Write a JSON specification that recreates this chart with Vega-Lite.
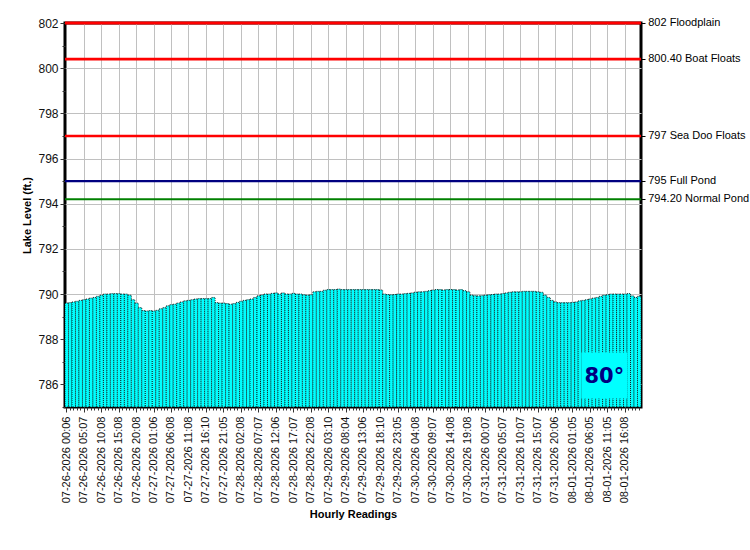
{
  "$schema": "https://vega.github.io/schema/vega-lite/v6.json",
  "width": 576,
  "height": 384,
  "autosize": {"type": "none"},
  "padding": {"left": 65, "top": 23, "right": 109, "bottom": 143},
  "background": "white",
  "config": {
    "font": "Liberation Sans",
    "view": {"stroke": "black", "strokeWidth": 3},
    "axis": {"labelFont": "Liberation Sans", "titleFont": "Liberation Sans", "labelColor": "#111", "titleColor": "black", "tickColor": "#333", "domain": false}
  },
  "datasets": {
    "levels": [
      {"t": "07-26-2026 00:06", "lvl": 789.6}, {"t": "07-26-2026 01:07", "lvl": 789.62}, {"t": "07-26-2026 02:07", "lvl": 789.65},
      {"t": "07-26-2026 03:07", "lvl": 789.68}, {"t": "07-26-2026 04:07", "lvl": 789.72}, {"t": "07-26-2026 05:07", "lvl": 789.75},
      {"t": "07-26-2026 06:07", "lvl": 789.78}, {"t": "07-26-2026 07:07", "lvl": 789.82}, {"t": "07-26-2026 08:07", "lvl": 789.85},
      {"t": "07-26-2026 09:07", "lvl": 789.9}, {"t": "07-26-2026 10:08", "lvl": 789.95}, {"t": "07-26-2026 11:07", "lvl": 790.0},
      {"t": "07-26-2026 12:07", "lvl": 790.0}, {"t": "07-26-2026 13:07", "lvl": 790.02}, {"t": "07-26-2026 14:07", "lvl": 790.02},
      {"t": "07-26-2026 15:08", "lvl": 790.02}, {"t": "07-26-2026 16:07", "lvl": 790.0}, {"t": "07-26-2026 17:07", "lvl": 790.0},
      {"t": "07-26-2026 18:07", "lvl": 789.95}, {"t": "07-26-2026 19:07", "lvl": 789.75}, {"t": "07-26-2026 20:08", "lvl": 789.6},
      {"t": "07-26-2026 21:07", "lvl": 789.4}, {"t": "07-26-2026 22:07", "lvl": 789.27}, {"t": "07-26-2026 23:07", "lvl": 789.25},
      {"t": "07-27-2026 00:07", "lvl": 789.27}, {"t": "07-27-2026 01:06", "lvl": 789.25}, {"t": "07-27-2026 02:07", "lvl": 789.28},
      {"t": "07-27-2026 03:07", "lvl": 789.35}, {"t": "07-27-2026 04:07", "lvl": 789.4}, {"t": "07-27-2026 05:07", "lvl": 789.48},
      {"t": "07-27-2026 06:08", "lvl": 789.53}, {"t": "07-27-2026 07:07", "lvl": 789.55}, {"t": "07-27-2026 08:07", "lvl": 789.6},
      {"t": "07-27-2026 09:07", "lvl": 789.65}, {"t": "07-27-2026 10:07", "lvl": 789.7}, {"t": "07-27-2026 11:08", "lvl": 789.72},
      {"t": "07-27-2026 12:07", "lvl": 789.75}, {"t": "07-27-2026 13:07", "lvl": 789.78}, {"t": "07-27-2026 14:07", "lvl": 789.8},
      {"t": "07-27-2026 15:07", "lvl": 789.8}, {"t": "07-27-2026 16:10", "lvl": 789.8}, {"t": "07-27-2026 17:07", "lvl": 789.8},
      {"t": "07-27-2026 18:07", "lvl": 789.85}, {"t": "07-27-2026 19:07", "lvl": 789.62}, {"t": "07-27-2026 20:07", "lvl": 789.6},
      {"t": "07-27-2026 21:05", "lvl": 789.6}, {"t": "07-27-2026 22:07", "lvl": 789.58}, {"t": "07-27-2026 23:07", "lvl": 789.55},
      {"t": "07-28-2026 00:07", "lvl": 789.58}, {"t": "07-28-2026 01:07", "lvl": 789.63}, {"t": "07-28-2026 02:08", "lvl": 789.68},
      {"t": "07-28-2026 03:07", "lvl": 789.72}, {"t": "07-28-2026 04:07", "lvl": 789.75}, {"t": "07-28-2026 05:07", "lvl": 789.78},
      {"t": "07-28-2026 06:07", "lvl": 789.85}, {"t": "07-28-2026 07:07", "lvl": 789.92}, {"t": "07-28-2026 08:07", "lvl": 789.96},
      {"t": "07-28-2026 09:07", "lvl": 790.0}, {"t": "07-28-2026 10:07", "lvl": 790.0}, {"t": "07-28-2026 11:07", "lvl": 790.03},
      {"t": "07-28-2026 12:06", "lvl": 790.05}, {"t": "07-28-2026 13:07", "lvl": 790.0}, {"t": "07-28-2026 14:07", "lvl": 790.05},
      {"t": "07-28-2026 15:07", "lvl": 790.0}, {"t": "07-28-2026 16:07", "lvl": 790.0}, {"t": "07-28-2026 17:07", "lvl": 790.03},
      {"t": "07-28-2026 18:07", "lvl": 790.0}, {"t": "07-28-2026 19:07", "lvl": 790.0}, {"t": "07-28-2026 20:07", "lvl": 789.97},
      {"t": "07-28-2026 21:07", "lvl": 789.95}, {"t": "07-28-2026 22:08", "lvl": 789.97}, {"t": "07-28-2026 23:07", "lvl": 790.1},
      {"t": "07-29-2026 00:07", "lvl": 790.12}, {"t": "07-29-2026 01:07", "lvl": 790.12}, {"t": "07-29-2026 02:07", "lvl": 790.17},
      {"t": "07-29-2026 03:10", "lvl": 790.2}, {"t": "07-29-2026 04:07", "lvl": 790.2}, {"t": "07-29-2026 05:07", "lvl": 790.2},
      {"t": "07-29-2026 06:07", "lvl": 790.22}, {"t": "07-29-2026 07:07", "lvl": 790.2}, {"t": "07-29-2026 08:04", "lvl": 790.2},
      {"t": "07-29-2026 09:07", "lvl": 790.2}, {"t": "07-29-2026 10:07", "lvl": 790.2}, {"t": "07-29-2026 11:07", "lvl": 790.2},
      {"t": "07-29-2026 12:07", "lvl": 790.2}, {"t": "07-29-2026 13:06", "lvl": 790.2}, {"t": "07-29-2026 14:07", "lvl": 790.2},
      {"t": "07-29-2026 15:07", "lvl": 790.2}, {"t": "07-29-2026 16:07", "lvl": 790.2}, {"t": "07-29-2026 17:07", "lvl": 790.2},
      {"t": "07-29-2026 18:10", "lvl": 790.18}, {"t": "07-29-2026 19:07", "lvl": 790.0}, {"t": "07-29-2026 20:07", "lvl": 789.98},
      {"t": "07-29-2026 21:07", "lvl": 789.97}, {"t": "07-29-2026 22:07", "lvl": 789.98}, {"t": "07-29-2026 23:05", "lvl": 790.0},
      {"t": "07-30-2026 00:07", "lvl": 790.0}, {"t": "07-30-2026 01:07", "lvl": 790.02}, {"t": "07-30-2026 02:07", "lvl": 790.03},
      {"t": "07-30-2026 03:07", "lvl": 790.05}, {"t": "07-30-2026 04:08", "lvl": 790.08}, {"t": "07-30-2026 05:07", "lvl": 790.1},
      {"t": "07-30-2026 06:07", "lvl": 790.1}, {"t": "07-30-2026 07:07", "lvl": 790.12}, {"t": "07-30-2026 08:07", "lvl": 790.15},
      {"t": "07-30-2026 09:07", "lvl": 790.18}, {"t": "07-30-2026 10:07", "lvl": 790.2}, {"t": "07-30-2026 11:07", "lvl": 790.2},
      {"t": "07-30-2026 12:07", "lvl": 790.18}, {"t": "07-30-2026 13:07", "lvl": 790.2}, {"t": "07-30-2026 14:08", "lvl": 790.2},
      {"t": "07-30-2026 15:07", "lvl": 790.2}, {"t": "07-30-2026 16:07", "lvl": 790.18}, {"t": "07-30-2026 17:07", "lvl": 790.2},
      {"t": "07-30-2026 18:07", "lvl": 790.15}, {"t": "07-30-2026 19:08", "lvl": 790.1}, {"t": "07-30-2026 20:07", "lvl": 789.95},
      {"t": "07-30-2026 21:07", "lvl": 789.93}, {"t": "07-30-2026 22:07", "lvl": 789.92}, {"t": "07-30-2026 23:07", "lvl": 789.93},
      {"t": "07-31-2026 00:07", "lvl": 789.95}, {"t": "07-31-2026 01:07", "lvl": 789.97}, {"t": "07-31-2026 02:07", "lvl": 789.98},
      {"t": "07-31-2026 03:07", "lvl": 790.0}, {"t": "07-31-2026 04:07", "lvl": 790.0}, {"t": "07-31-2026 05:07", "lvl": 790.02},
      {"t": "07-31-2026 06:07", "lvl": 790.05}, {"t": "07-31-2026 07:07", "lvl": 790.08}, {"t": "07-31-2026 08:07", "lvl": 790.1},
      {"t": "07-31-2026 09:07", "lvl": 790.1}, {"t": "07-31-2026 10:07", "lvl": 790.1}, {"t": "07-31-2026 11:07", "lvl": 790.12},
      {"t": "07-31-2026 12:07", "lvl": 790.12}, {"t": "07-31-2026 13:07", "lvl": 790.12}, {"t": "07-31-2026 14:07", "lvl": 790.12},
      {"t": "07-31-2026 15:07", "lvl": 790.1}, {"t": "07-31-2026 16:07", "lvl": 790.08}, {"t": "07-31-2026 17:07", "lvl": 789.95},
      {"t": "07-31-2026 18:07", "lvl": 789.85}, {"t": "07-31-2026 19:07", "lvl": 789.72}, {"t": "07-31-2026 20:06", "lvl": 789.65},
      {"t": "07-31-2026 21:07", "lvl": 789.62}, {"t": "07-31-2026 22:07", "lvl": 789.62}, {"t": "07-31-2026 23:07", "lvl": 789.62},
      {"t": "08-01-2026 00:07", "lvl": 789.62}, {"t": "08-01-2026 01:05", "lvl": 789.63}, {"t": "08-01-2026 02:07", "lvl": 789.65},
      {"t": "08-01-2026 03:07", "lvl": 789.7}, {"t": "08-01-2026 04:07", "lvl": 789.72}, {"t": "08-01-2026 05:07", "lvl": 789.75},
      {"t": "08-01-2026 06:05", "lvl": 789.78}, {"t": "08-01-2026 07:07", "lvl": 789.82}, {"t": "08-01-2026 08:07", "lvl": 789.85},
      {"t": "08-01-2026 09:07", "lvl": 789.9}, {"t": "08-01-2026 10:07", "lvl": 789.95}, {"t": "08-01-2026 11:05", "lvl": 789.97},
      {"t": "08-01-2026 12:07", "lvl": 790.0}, {"t": "08-01-2026 13:07", "lvl": 790.0}, {"t": "08-01-2026 14:07", "lvl": 790.0},
      {"t": "08-01-2026 15:07", "lvl": 790.0}, {"t": "08-01-2026 16:08", "lvl": 790.0}, {"t": "08-01-2026 17:07", "lvl": 790.02},
      {"t": "08-01-2026 18:07", "lvl": 789.92}, {"t": "08-01-2026 19:07", "lvl": 789.85}, {"t": "08-01-2026 20:07", "lvl": 789.9}
    ],
    "thresholds": [
      {"level": 802, "label": "802 Floodplain"},
      {"level": 800.4, "label": "800.40 Boat Floats"},
      {"level": 797, "label": "797 Sea Doo Floats"},
      {"level": 795, "label": "795 Full Pond"},
      {"level": 794.2, "label": "794.20 Normal Pond"}
    ],
    "temperature": [{"temp": "80°"}]
  },
  "layer": [
    {
      "data": {"name": "levels"},
      "mark": {"type": "bar", "fill": "#00ffff", "stroke": "black", "strokeWidth": 1, "strokeOpacity": 0.8, "strokeDash": [1, 1], "width": {"band": 1}},
      "encoding": {
        "x": {
          "field": "t",
          "type": "ordinal",
          "sort": null,
          "title": "Hourly Readings",
          "scale": {"paddingInner": 0, "paddingOuter": 0},
          "axis": {
            "labelAngle": 270,
            "labelFontSize": 11,
            "labelOverlap": false,
            "labelPadding": 4,
            "bandPosition": 0.5,
            "labelExpr": "indexof(['07-26-2026 00:06','07-26-2026 05:07','07-26-2026 10:08','07-26-2026 15:08','07-26-2026 20:08','07-27-2026 01:06','07-27-2026 06:08','07-27-2026 11:08','07-27-2026 16:10','07-27-2026 21:05','07-28-2026 02:08','07-28-2026 07:07','07-28-2026 12:06','07-28-2026 17:07','07-28-2026 22:08','07-29-2026 03:10','07-29-2026 08:04','07-29-2026 13:06','07-29-2026 18:10','07-29-2026 23:05','07-30-2026 04:08','07-30-2026 09:07','07-30-2026 14:08','07-30-2026 19:08','07-31-2026 00:07','07-31-2026 05:07','07-31-2026 10:07','07-31-2026 15:07','07-31-2026 20:06','08-01-2026 01:05','08-01-2026 06:05','08-01-2026 11:05','08-01-2026 16:08'], datum.value) >= 0 ? datum.label : ''",
            "tickSize": {"condition": {"test": "indexof(['07-26-2026 00:06','07-26-2026 05:07','07-26-2026 10:08','07-26-2026 15:08','07-26-2026 20:08','07-27-2026 01:06','07-27-2026 06:08','07-27-2026 11:08','07-27-2026 16:10','07-27-2026 21:05','07-28-2026 02:08','07-28-2026 07:07','07-28-2026 12:06','07-28-2026 17:07','07-28-2026 22:08','07-29-2026 03:10','07-29-2026 08:04','07-29-2026 13:06','07-29-2026 18:10','07-29-2026 23:05','07-30-2026 04:08','07-30-2026 09:07','07-30-2026 14:08','07-30-2026 19:08','07-31-2026 00:07','07-31-2026 05:07','07-31-2026 10:07','07-31-2026 15:07','07-31-2026 20:06','08-01-2026 01:05','08-01-2026 06:05','08-01-2026 11:05','08-01-2026 16:08'], datum.value) >= 0", "value": 5}, "value": 3},
            "grid": true,
            "gridColor": "#c0c0c0",
            "gridOpacity": {"condition": {"test": "indexof(['07-26-2026 05:07','07-26-2026 10:08','07-26-2026 15:08','07-26-2026 20:08','07-27-2026 01:06','07-27-2026 06:08','07-27-2026 11:08','07-27-2026 16:10','07-27-2026 21:05','07-28-2026 02:08','07-28-2026 07:07','07-28-2026 12:06','07-28-2026 17:07','07-28-2026 22:08','07-29-2026 03:10','07-29-2026 08:04','07-29-2026 13:06','07-29-2026 18:10','07-29-2026 23:05','07-30-2026 04:08','07-30-2026 09:07','07-30-2026 14:08','07-30-2026 19:08','07-31-2026 00:07','07-31-2026 05:07','07-31-2026 10:07','07-31-2026 15:07','07-31-2026 20:06','08-01-2026 01:05','08-01-2026 06:05','08-01-2026 11:05','08-01-2026 16:08'], datum.value) >= 0", "value": 1}, "value": 0},
            "titleFontSize": 11,
            "titleFontWeight": "bold",
            "titlePadding": 6
          }
        },
        "y": {
          "field": "lvl",
          "type": "quantitative",
          "title": "Lake Level (ft.)",
          "scale": {"domain": [785, 802], "zero": false, "nice": false},
          "axis": {
            "values": [785, 785.5, 786, 786.5, 787, 787.5, 788, 788.5, 789, 789.5, 790, 790.5, 791, 791.5, 792, 792.5, 793, 793.5, 794, 794.5, 795, 795.5, 796, 796.5, 797, 797.5, 798, 798.5, 799, 799.5, 800, 800.5, 801, 801.5, 802],
            "format": "d",
            "labelExpr": "datum.value % 2 == 0 ? datum.label : ''",
            "labelFontSize": 12,
            "labelPadding": 2,
            "tickSize": {"condition": {"test": "datum.value % 2 == 0", "value": 5}, "value": 3},
            "grid": true,
            "gridColor": "#c0c0c0",
            "gridOpacity": {"condition": {"test": "datum.value % 2 == 0 && datum.value > 785 && datum.value < 802", "value": 1}, "value": 0},
            "titleFontSize": 11,
            "titleFontWeight": "bold",
            "titlePadding": 5
          }
        },
        "y2": {"datum": 785}
      }
    },
    {
      "data": {"name": "thresholds"},
      "mark": {"type": "rule"},
      "encoding": {
        "y": {"field": "level", "type": "quantitative", "axis": null},
        "color": {
          "field": "label",
          "type": "nominal",
          "legend": null,
          "scale": {
            "domain": ["802 Floodplain", "800.40 Boat Floats", "797 Sea Doo Floats", "795 Full Pond", "794.20 Normal Pond"],
            "range": ["#ff0000", "#ff0000", "#ff0000", "#000080", "#008000"]
          }
        },
        "strokeWidth": {
          "field": "label",
          "type": "nominal",
          "legend": null,
          "scale": {
            "domain": ["802 Floodplain", "800.40 Boat Floats", "797 Sea Doo Floats", "795 Full Pond", "794.20 Normal Pond"],
            "range": [3, 2, 2, 1, 1]
          }
        }
      }
    },
    {
      "data": {"name": "thresholds"},
      "mark": {"type": "text", "align": "left", "baseline": "middle", "dx": 9, "fontSize": 11, "font": "Liberation Sans", "color": "black"},
      "encoding": {
        "x": {"datum": "08-01-2026 20:07", "type": "ordinal"},
        "y": {
          "field": "level",
          "type": "quantitative",
          "axis": {"orient": "right", "values": [802, 800.4, 797, 795, 794.2], "labels": false, "title": null, "grid": false, "tickSize": 4, "tickColor": "black"}
        },
        "text": {"field": "label"}
      }
    },
    {
      "data": {"name": "temperature"},
      "mark": {"type": "point", "shape": "square", "filled": true, "color": "#00ffff", "opacity": 1, "size": 2116},
      "encoding": {
        "x": {"datum": "08-01-2026 10:07", "type": "ordinal"},
        "y": {"datum": 786.4, "type": "quantitative", "axis": null}
      }
    },
    {
      "data": {"name": "temperature"},
      "mark": {"type": "text", "font": "DejaVu Sans", "fontWeight": "bold", "fontSize": 21, "color": "#000080", "align": "center", "baseline": "middle"},
      "encoding": {
        "x": {"datum": "08-01-2026 10:07", "type": "ordinal"},
        "y": {"datum": 786.35, "type": "quantitative", "axis": null},
        "text": {"field": "temp"}
      }
    }
  ],
  "resolve": {"axis": {"y": "independent"}}
}
